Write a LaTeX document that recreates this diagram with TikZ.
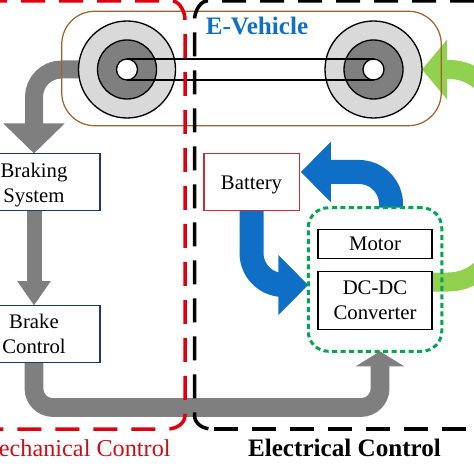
\documentclass[tikz,border=0pt]{standalone}
\usepackage{fontspec}
\setmainfont{Liberation Serif}
\usepackage{tikz}
\usetikzlibrary{positioning, arrows.meta, backgrounds}

\definecolor{framebrown}{HTML}{A0622D}
\definecolor{boxnavy}{HTML}{1F3864}
\definecolor{boxred}{HTML}{C0303A}
\definecolor{zonered}{HTML}{E0000F}
\definecolor{labelred}{HTML}{C8101A}
\definecolor{flowblue}{HTML}{0F6FC6}
\definecolor{flowgreen}{HTML}{92D050}
\definecolor{flowgray}{HTML}{7F7F7F}
\definecolor{dotgreen}{HTML}{00A651}

\begin{document}
\begin{tikzpicture}[
    ring/.style={circle, draw=black, line width=0.75pt, inner sep=0pt, outer sep=0pt},
    block/.style={draw, fill=white, line width=0.85pt, inner sep=0pt, outer sep=0pt, align=center,
        font=\fontsize{11.8}{14.2}\selectfont},
    zone/.style={line width=0.07cm, dash pattern=on 0.48cm off 0.28cm},
    grayflow/.style={draw=flowgray, line width=#1},
    blueflow/.style={draw=flowblue, line width=0.48cm, rounded corners=0.64cm,
        -{Triangle[length=0.6cm, width=1.17cm]}},
    greenflow/.style={draw=flowgreen, line width=0.38cm,
        -{Triangle[length=0.5cm, width=1.17cm]}}
]
\useasboundingbox (0,0) rectangle (9.48,-9.48);

% Wheels
\node[ring, fill=black!15, minimum size=1.94cm] (wheelL) at (2.54,-1.39) {};
\node[ring, fill=flowgray, minimum size=1.18cm] (discL) at (wheelL) {};
\node[ring, fill=white, minimum size=0.42cm] (hubL) at (wheelL) {};
\node[ring, fill=black!15, minimum size=1.94cm] (wheelR) at (7.47,-1.39) {};
\node[ring, fill=flowgray, minimum size=1.18cm] (discR) at (wheelR) {};
\node[ring, fill=white, minimum size=0.42cm] (hubR) at (wheelR) {};

% Belt between the hubs
\draw[line width=0.75pt] (hubL.north) -- (hubR.north);
\draw[line width=0.75pt] (hubL.south) -- (hubR.south);

% Vehicle frame
\node[draw=framebrown, line width=0.7pt, rounded corners=0.66cm, minimum width=7.59cm,
    minimum height=2.29cm, inner sep=0pt, outer sep=0pt] (vehicle) at (5.03,-1.37) {};
\node[font=\fontsize{14.3}{16}\selectfont\bfseries, text=flowblue] (vehiclelabel) at (5.14,-0.52) {E-Vehicle};

% Blocks
\node[block, draw=boxnavy, minimum width=2.64cm, minimum height=1.14cm] (braking) at (0.68,-3.64) {\rule{0pt}{11.5pt}Braking\\System};
\node[block, draw=boxnavy, minimum width=2.64cm, minimum height=1.14cm] (brakectl) at (0.68,-6.68) {Brake\\Control};
\node[block, draw=boxred, minimum width=1.91cm, minimum height=1.14cm, text height=11.5pt] (battery) at (5.03,-3.64) {Battery};
\node[block, draw=black, minimum width=2.28cm, minimum height=0.57cm] (motor) at (7.5,-4.88) {Motor};
\node[block, draw=black, minimum width=2.28cm, minimum height=1.15cm] (converter) at (7.5,-6.01) {DC-DC\\Converter};

% Dotted box round motor and converter
\node[draw=dotgreen, line width=0.06cm, dash pattern=on 0.1cm off 0.07cm, rounded corners=0.4cm,
    minimum width=2.67cm, minimum height=2.87cm, inner sep=0pt, outer sep=0pt] (powerunit) at (7.5,-5.59) {};

% Control zones
\draw[zone, draw=zonered] (-0.34,-0.02) -- (3.46,-0.02) .. controls (3.6,-0.04) and (3.7,-0.24) .. (3.7,-0.4)
    -- (3.7,-8.3) .. controls (3.7,-8.48) and (3.52,-8.58) .. (3.34,-8.58) -- (-0.2,-8.58);
\draw[zone, draw=black] (10.24,-0.02) -- (4.13,-0.02) .. controls (3.99,-0.04) and (3.89,-0.24) .. (3.89,-0.4)
    -- (3.89,-8.3) .. controls (3.89,-8.48) and (4.06,-8.58) .. (4.24,-8.58);
\draw[zone, draw=black] (4.27,-8.58) -- (9.8,-8.58);

% Zone labels
\node[anchor=east, inner sep=0pt, text=labelred, font=\fontsize{13.8}{16}\selectfont] (mechlabel) at (3.42,-8.96) {Mechanical Control};
\node[anchor=center, inner sep=0pt, font=\fontsize{14.3}{16}\selectfont\bfseries] (eleclabel) at (6.89,-8.96) {Electrical Control};

% Power flows, under everything else
\begin{scope}[on background layer]
\draw[grayflow=0.36cm, rounded corners=0.55cm, -{Triangle[length=0.6cm, width=1.19cm]}, flowgray]
    (wheelL.west) -| (braking.north);
\draw[grayflow=0.3cm, -{Triangle[length=0.49cm, width=0.64cm]}, flowgray]
    (braking.south) -- (brakectl.north);
\coordinate (lowbus) at (4,-8.15);
\draw[grayflow=0.375cm, rounded corners=0.38cm, -{Triangle[length=0.3cm, width=0.95cm]}, flowgray]
    (brakectl.south) |- (lowbus) -| ([xshift=0.1cm]powerunit.south);
\draw[blueflow] ([xshift=0.32cm]powerunit.north) |- ([xshift=0.03cm, yshift=0.2cm]battery.east);
\draw[blueflow] (battery.south) |- ([yshift=-0.11cm]powerunit.west);
\draw[greenflow] ([yshift=0.37cm]converter.east) -- (8.96,-5.64) .. controls (10.7,-5.64) and (10.7,-1.39) .. (8.98,-1.39) -- (wheelR.east);
\end{scope}

\end{tikzpicture}
\end{document}
